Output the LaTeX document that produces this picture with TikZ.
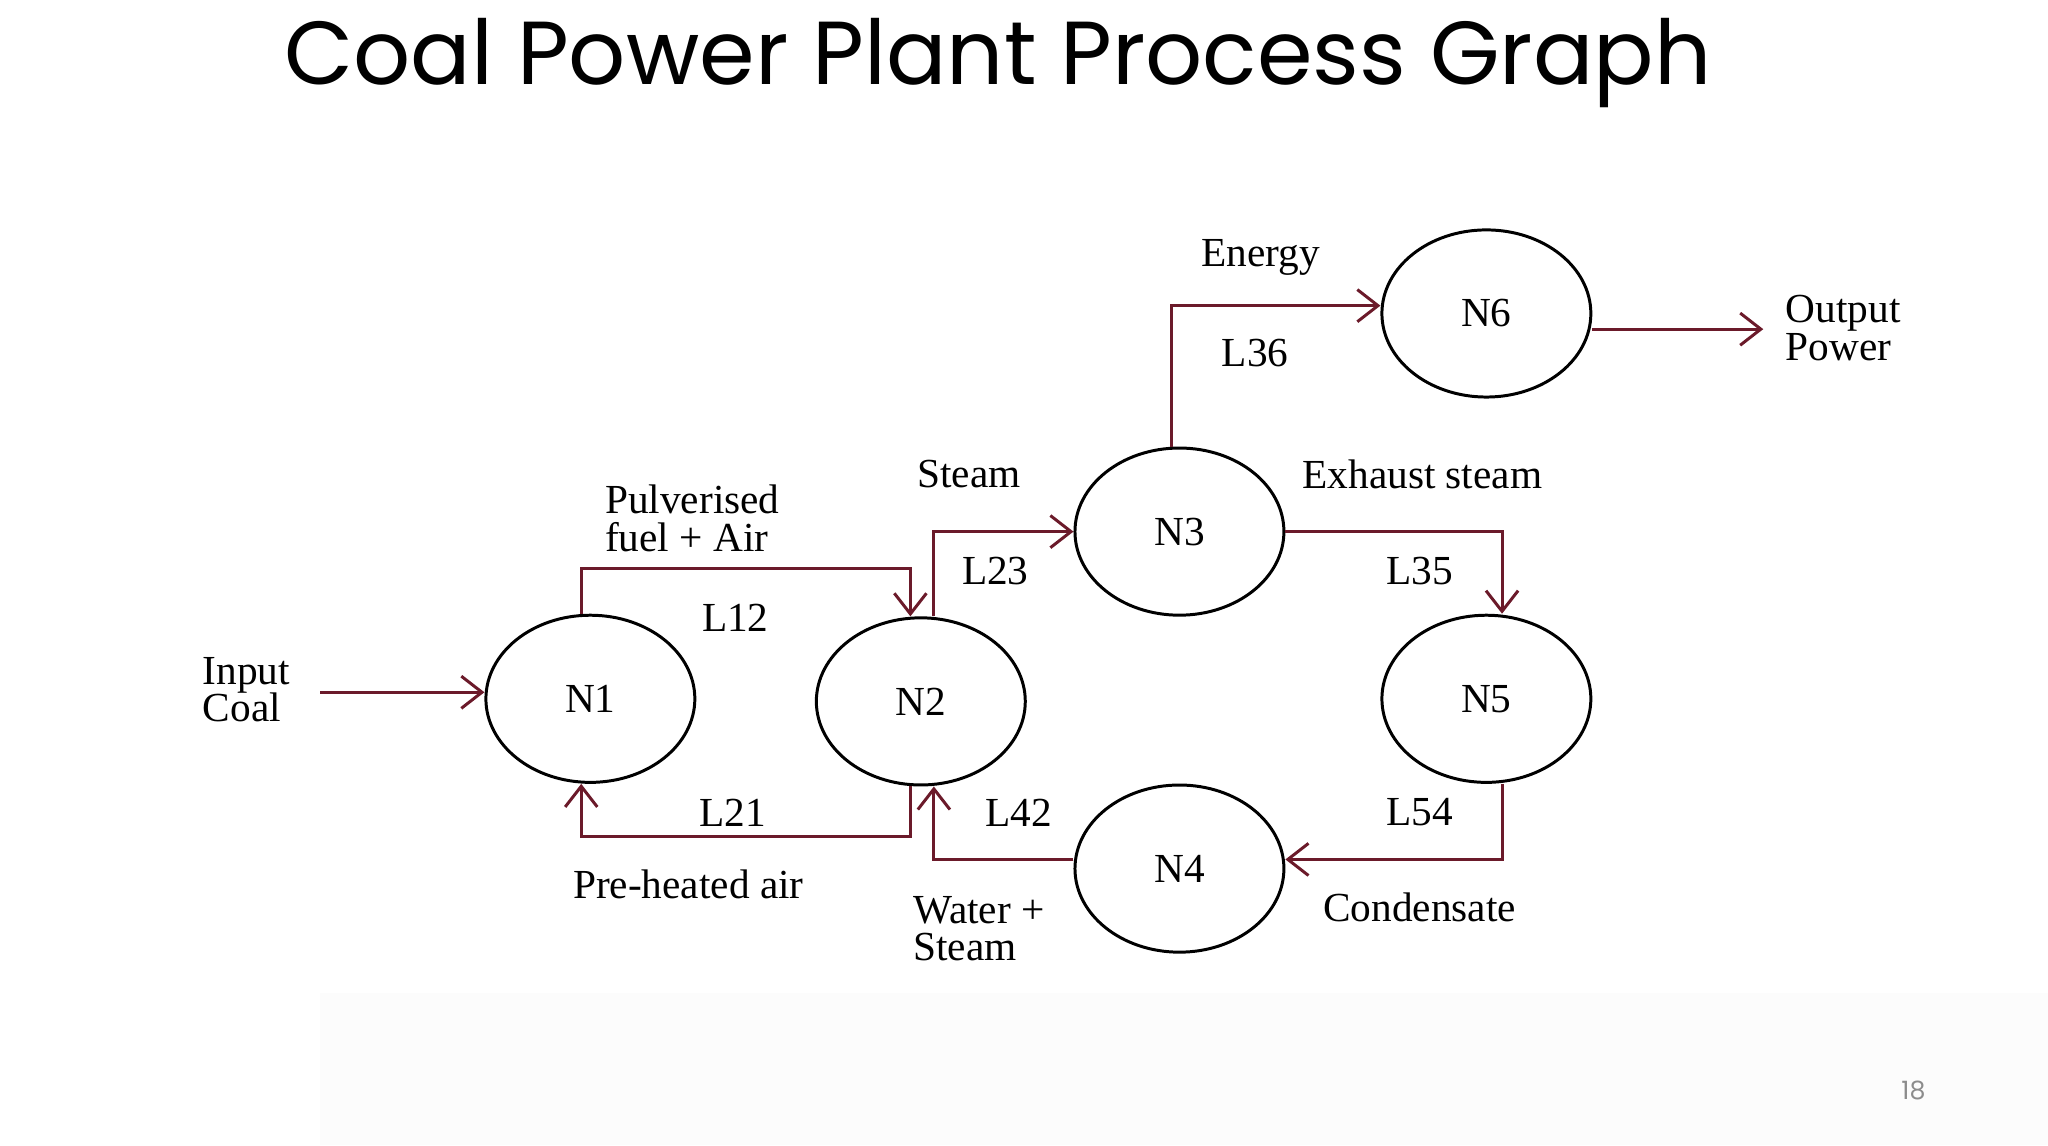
\documentclass[tikz,border=0pt]{standalone}
\usepackage{fontspec}
\setmainfont{Liberation Serif}
\newfontfamily\titlefont{Poppins}
\usetikzlibrary{shapes.geometric,arrows.meta,calc}
\definecolor{wire}{HTML}{6B1A2A}
\begin{document}
\begin{tikzpicture}[x=0.02cm,y=-0.02cm,
  nd/.style={draw,ellipse,line width=1.3pt,minimum width=3.2cm,minimum height=2.56cm,font=\fontsize{18}{19}\selectfont},
  fl/.style={draw=wire,line width=1.3pt,-{Straight Barb[length=9pt,width=14pt,line width=1.3pt]}},
  lb/.style={font=\fontsize{18}{16.5}\selectfont,align=left,inner sep=0pt}]
\useasboundingbox (0,0) rectangle (1568,877);
\fill[black!1] (245,760) rectangle (1568,877);
\node[font=\titlefont\fontsize{39}{44}\selectfont] (title) at (764,48) {Coal Power Plant Process Graph};
\node[nd] (n1) at (452,535) {N1};
\node[nd] (n2) at (705,537) {N2};
\node[nd] (n3) at (903,407) {N3};
\node[nd] (n4) at (903,665) {N4};
\node[nd] (n5) at (1138,535) {N5};
\node[nd] (n6) at (1138,240) {N6};
\coordinate (in) at (245,530);
\coordinate (out) at (1350,252);
\draw[fl] (in) -- (in -| n1.west);
\draw[fl] ($(n1.north)+(-7,0)$) |- ++(0,-35) -| ($(n2.north)+(-8,0)$);
\draw[fl] ($(n2.south)+(-8,0)$) |- ++(0,38) -| ($(n1.south)+(-7,0)$);
\draw[fl] ($(n2.north)+(10,0)$) |- (n3.west);
\draw[fl] ($(n3.north)+(-6,0)$) |- ($(n6.west)+(0,-6)$);
\draw[fl] ($(n6.east)+(0,12)$) -- (out);
\draw[fl] (n3.east) -| ($(n5.north)+(12,0)$);
\draw[fl] ($(n5.south)+(12,0)$) |- ($(n4.east)+(0,-7)$);
\draw[fl] ($(n4.west)+(0,-7)$) -| ($(n2.south)+(10,0)$);
\node[lb,anchor=west] (t1) at (155,528) {Input\\Coal};
\node[lb,anchor=west] (t2) at (1367,251) {Output\\Power};
\node[lb,anchor=west] (t3) at (463,397) {Pulverised\\fuel + Air};
\node[lb,anchor=west] (t4) at (699,711) {Water +\\Steam};
\node[lb] (l12) at (563,473) {L12};
\node[lb] (l21) at (561,622) {L21};
\node[lb] (pha) at (527,677) {Pre-heated air};
\node[lb] (st) at (742,363) {Steam};
\node[lb] (l23) at (762,437) {L23};
\node[lb] (en) at (965,197) {Energy};
\node[lb] (l36) at (961,270) {L36};
\node[lb] (ex) at (1089,363) {Exhaust steam};
\node[lb] (l35) at (1087,437) {L35};
\node[lb] (l54) at (1087,622) {L54};
\node[lb] (co) at (1087,695) {Condensate};
\node[lb] (l42) at (780,622) {L42};
\node[font=\fontsize{11}{11}\selectfont\titlefont,text=black!45] (pg) at (1465,835) {18};
\end{tikzpicture}
\end{document}
